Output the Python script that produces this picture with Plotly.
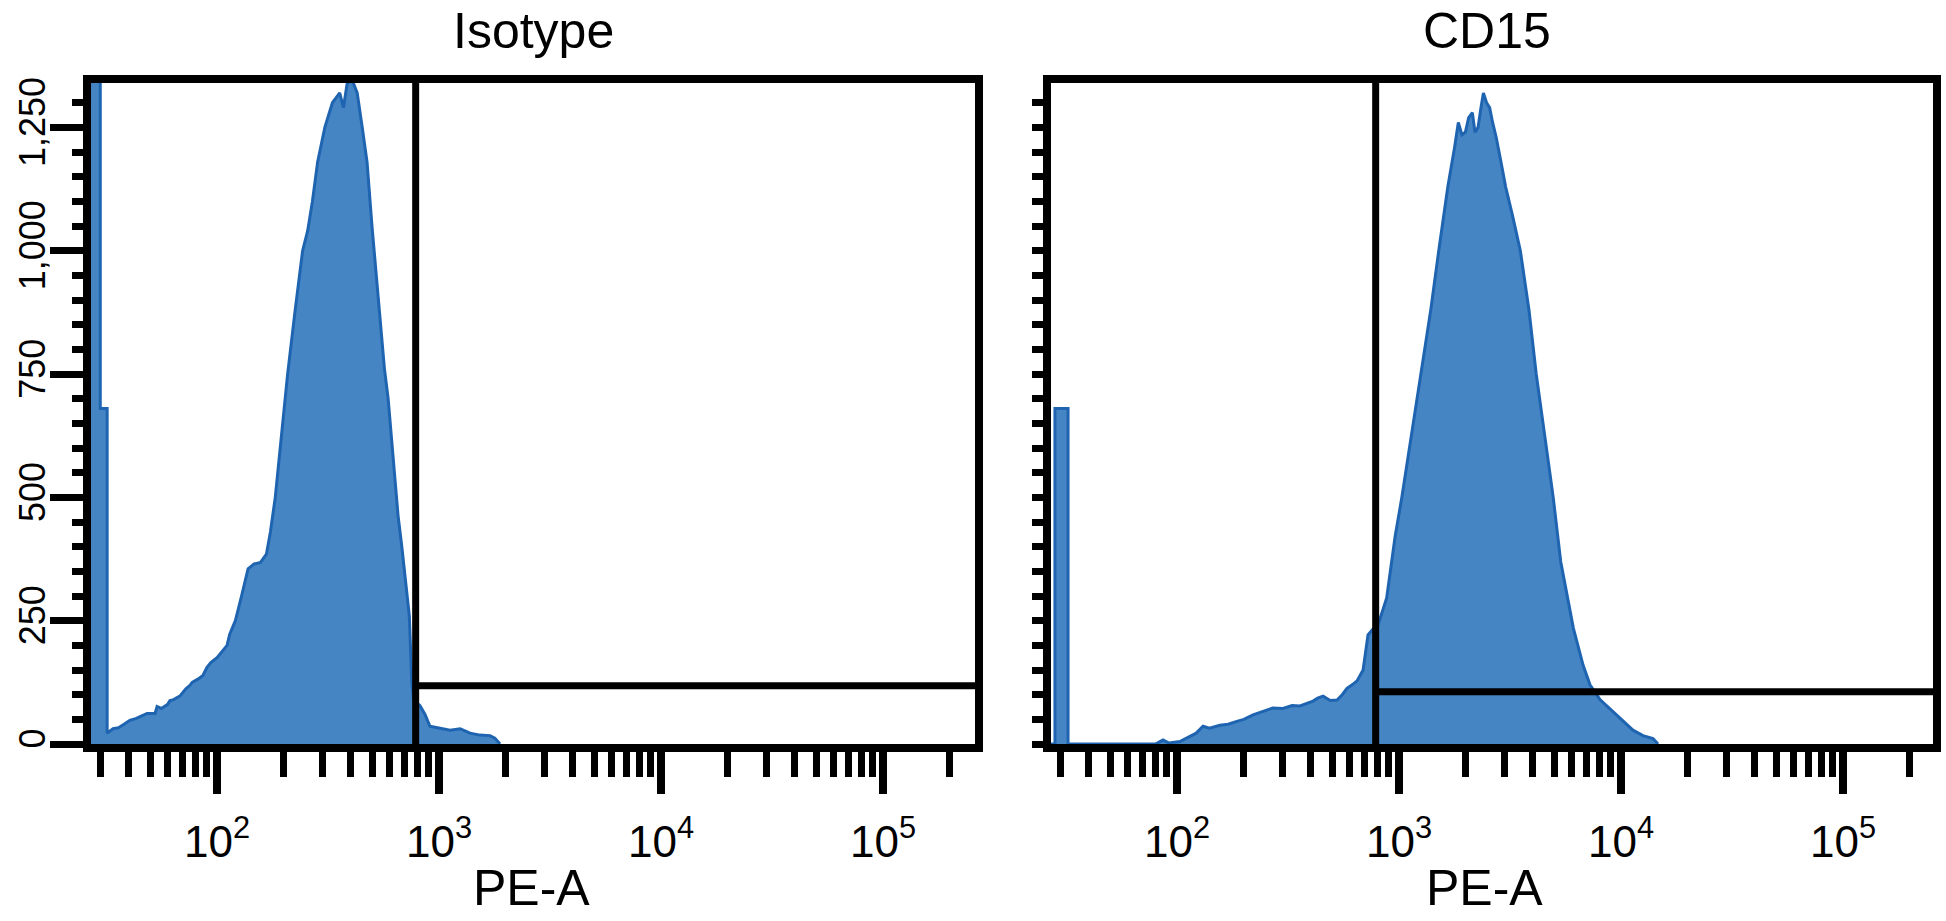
import plotly.graph_objects as go

# ---------------- data ----------------
iso_x = [26.0, 27.0, 29.8, 29.8, 32.0, 32.0, 34.0, 36, 38.1, 40.5, 43.3, 46.2, 48.4, 52.6, 53.7,
         56.1, 59.8, 61.4, 63.7, 68.0, 72.4, 75.5, 77.3, 82.4, 86.4, 90, 93.8, 100, 104, 111,
         114, 121, 129, 138, 147, 157, 167, 174, 183, 195, 208, 225, 243, 256, 269, 284, 306,
         331, 357, 371, 386, 407, 428, 451, 474, 499, 532, 568, 590, 621, 654, 680, 698, 735,
         754, 768, 790, 820, 865, 910, 1011, 1122, 1245, 1380, 1531, 1698, 1786, 1883]
iso_count = [0, 2000, 2000, 680, 680, 22, 31, 33, 40, 48, 52, 58, 62, 62, 76,
             72, 80, 88, 90, 97, 112, 119, 125, 132, 139, 155, 165, 175, 185, 200,
             222, 250, 300, 355, 365, 368, 385, 430, 500, 620, 750, 880, 1000, 1040, 1100, 1180, 1250,
             1300, 1320, 1290, 1340, 1345, 1320, 1250, 1180, 1050, 900, 760, 700, 580, 463, 400, 350, 260,
             127, 90, 84, 78, 60, 36, 32, 28, 31, 22, 18, 17, 12, 0]

cd15_x = [26.0, 28.2, 28.2, 32.3, 32.3, 80, 86.5, 92, 103, 115, 122, 131, 140, 156, 170, 186,
          200, 220, 245, 270, 300, 330, 358, 385, 410, 430, 455, 490, 526, 555, 583, 615, 647,
          689, 710, 725, 760, 804, 880, 960, 1030, 1130, 1250, 1390, 1510, 1660, 1780, 1850, 1920,
          1990, 2060, 2140, 2200, 2270, 2340, 2400, 2480, 2560, 2640, 2740, 2880, 3020, 3250,
          3520, 3850, 4150, 4550, 4950, 5350, 5750, 6100, 6745, 7250, 8040, 9200, 10200, 11320,
          12560, 13940, 14680]
cd15_count = [0, 0, 680, 680, 0, 0, 8, 2, 5, 15, 22, 36, 32, 38, 40, 46,
              50, 59, 66, 73, 72, 78, 77, 82, 87, 93, 97, 88, 89, 100, 113, 120, 128,
              150, 190, 221, 232, 241, 296, 420, 500, 620, 750, 880, 1000, 1130, 1210, 1260, 1235,
              1240, 1270, 1280, 1240, 1250, 1290, 1320, 1300, 1290, 1260, 1230, 1180, 1130, 1070,
              1000, 880, 750, 620, 500, 370, 296, 235, 160, 120, 90, 65, 47, 28,
              17, 11, 0]

panel_titles = ["Isotype", "CD15"]
x_title = "PE-A"

x_major = [100, 1000, 10000, 100000]
x_major_text = ["10<sup>2</sup>", "10<sup>3</sup>", "10<sup>4</sup>", "10<sup>5</sup>"]
x_minor = ([k * 10 for k in range(3, 10)] + [k * 100 for k in range(2, 10)] +
           [k * 1000 for k in range(2, 10)] + [k * 10000 for k in range(2, 10)] + [200000])

y_major = [0, 250, 500, 750, 1000, 1250]
y_major_text = ["0", "250", "500", "750", "1,000", "1,250"]
y_minor = [v for v in range(50, 1340, 50) if v % 250 != 0]
y_all = list(range(0, 1340, 50))

gate_x = [785, 785]          # gate start (PE-A)
gate_y = [118, 106]          # gate bar height (count)

# ---------------- style ----------------
FILL = "#4585C3"
EDGE = "#1F64B0"
FONT = "Liberation Sans, Arial, Helvetica, sans-serif"

fig = go.Figure()

for i, (xs, ys) in enumerate([(iso_x, iso_count), (cd15_x, cd15_count)]):
    xa = "x" if i == 0 else "x2"
    ya = "y" if i == 0 else "y2"
    fig.add_trace(go.Scatter(x=xs, y=ys, mode="lines", fill="tozeroy",
                             fillcolor=FILL, line=dict(color=EDGE, width=3),
                             xaxis=xa, yaxis=ya, showlegend=False, hoverinfo="skip"))
    # gate: vertical line full height + horizontal bar to the right edge
    fig.add_trace(go.Scatter(x=[gate_x[i], gate_x[i]], y=[0, 1400], mode="lines",
                             line=dict(color="black", width=7),
                             xaxis=xa, yaxis=ya, showlegend=False, hoverinfo="skip"))
    fig.add_trace(go.Scatter(x=[gate_x[i], 1e6], y=[gate_y[i], gate_y[i]], mode="lines",
                             line=dict(color="black", width=7),
                             xaxis=xa, yaxis=ya, showlegend=False, hoverinfo="skip"))

W, H = 1946, 921
ydom = [1 - 744 / H, 1 - 83 / H]

common_x = dict(type="log", showline=True, linewidth=8, linecolor="black", mirror=True,
                ticks="outside", tickmode="array", tickvals=x_major, ticktext=x_major_text,
                ticklen=42, tickwidth=8, tickcolor="black", ticklabelstandoff=10,
                minor=dict(tickmode="array", tickvals=x_minor, ticks="outside",
                           ticklen=25, tickwidth=7, tickcolor="black", showgrid=False),
                showgrid=False, zeroline=False,
                tickfont=dict(family=FONT, size=44, color="black"), automargin=False)

common_y = dict(range=[0, 1340], showline=True, linewidth=8, linecolor="black", mirror=True,
                ticks="outside", tickwidth=7, tickcolor="black", showgrid=False, zeroline=False,
                domain=ydom, automargin=False)

fig.update_layout(
    width=W, height=H,
    margin=dict(l=0, r=0, t=0, b=0),
    paper_bgcolor="white", plot_bgcolor="white",
    xaxis=dict(domain=[91 / W, 975 / W], range=[1.4324, 5.4144], anchor="y", **common_x),
    xaxis2=dict(domain=[1051 / W, 1933 / W], range=[1.4324, 5.4054], anchor="y2", **common_x),
    yaxis=dict(anchor="x", tickmode="array", tickvals=y_major, ticktext=y_major_text,
               ticklen=33, tickangle=-90, ticklabelstandoff=-9,
               tickfont=dict(family=FONT, size=36, color="black"),
               minor=dict(tickmode="array", tickvals=y_minor, ticks="outside",
                          ticklen=11, tickwidth=7, tickcolor="black", showgrid=False),
               **common_y),
    yaxis2=dict(anchor="x2", tickmode="array", tickvals=y_all, ticklen=11,
                showticklabels=False, **common_y),
    annotations=[
        dict(text=panel_titles[0], x=533 / W, y=1 - 31 / H, xref="paper", yref="paper",
             showarrow=False, xanchor="center", yanchor="middle",
             font=dict(family=FONT, size=50, color="black")),
        dict(text=panel_titles[1], x=1487 / W, y=1 - 31 / H, xref="paper", yref="paper",
             showarrow=False, xanchor="center", yanchor="middle",
             font=dict(family=FONT, size=50, color="black")),
        dict(text=x_title, x=531 / W, y=0.003, xref="paper", yref="paper",
             showarrow=False, xanchor="center", yanchor="bottom",
             font=dict(family=FONT, size=50, color="black")),
        dict(text=x_title, x=1484 / W, y=0.003, xref="paper", yref="paper",
             showarrow=False, xanchor="center", yanchor="bottom",
             font=dict(family=FONT, size=50, color="black")),
    ],
)

fig.write_html("out.html")
